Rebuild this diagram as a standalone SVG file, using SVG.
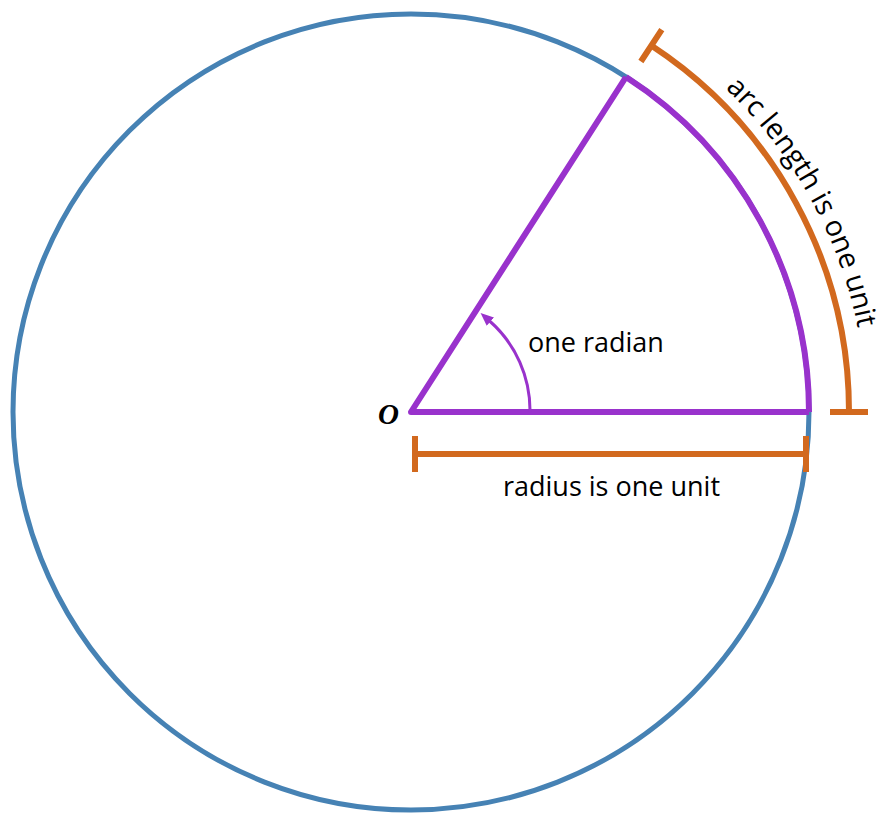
<svg xmlns="http://www.w3.org/2000/svg" width="889" height="814" viewBox="0 0 889 814">
<style>
.lbl{font-family:"Open Sans","Noto Sans","Liberation Sans",sans-serif;font-size:27px;fill:#000}
.orange{stroke:#D2691E;stroke-width:6;fill:none}
.purple{stroke:#9932CC;stroke-width:6;fill:none}
</style>
<defs>
<marker id="ah" markerUnits="userSpaceOnUse" markerWidth="14" markerHeight="12" refX="1" refY="5.5" orient="auto">
<path d="M0,0 L13,5.5 L0,11 z" fill="#9932CC"/>
</marker>
<path id="arcTextPath" d="M 658.9 36.2 A 456 456 0 0 1 867 412"/>
</defs>
<rect width="889" height="814" fill="#fff"/>
<g id="circle">
<circle cx="411" cy="412" r="398" fill="none" stroke="#4682B4" stroke-width="5"/>
</g>
<g id="sector">
<path class="purple" d="M 809 412 L 411 412 L 626 77" stroke-linejoin="round"/>
<path class="purple" d="M 809 412 A 398 398 0 0 0 626 77"/>
</g>
<g id="connectors">
<path d="M 530 412 A 119 119 0 0 0 489.6 321.0" fill="none" stroke="#9932CC" stroke-width="3" marker-end="url(#ah)"/>
</g>
<g id="radius-measure">
<path class="orange" d="M 415 454 L 806 454 M 415 436 L 415 472 M 806 436 L 806 472"/>
</g>
<g id="arc-measure">
<path class="orange" d="M 651.3 45.6 A 438 438 0 0 1 849 412"/>
<path class="orange" d="M 640.9 61.5 L 661.8 29.7 M 830 412 L 868 412"/>
</g>
<g id="labels">
<text class="lbl" x="528" y="352">one radian</text>
<text class="lbl" x="611.5" y="496" text-anchor="middle">radius is one unit</text>
<text x="378" y="424" font-family="Liberation Serif,serif" font-weight="bold" font-style="italic" font-size="29">O</text>
<text class="lbl" font-size="28" style="font-size:28.5px"><textPath href="#arcTextPath" startOffset="50%" text-anchor="middle">arc length is one unit</textPath></text>
</g>
</svg>
